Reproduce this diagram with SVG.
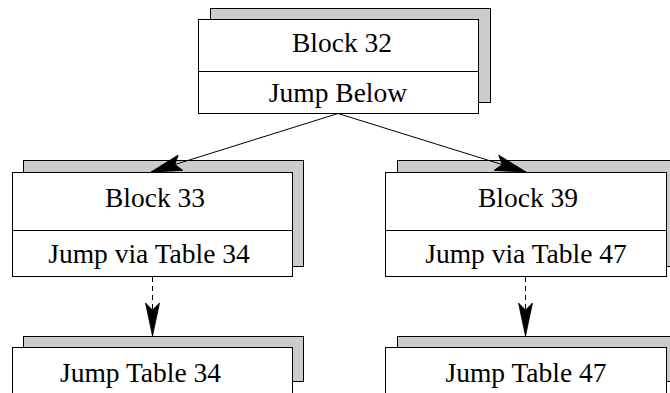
<svg xmlns="http://www.w3.org/2000/svg" width="670" height="393" viewBox="0 0 670 393">
  <style>
    .shadow { fill: #cccccc; stroke: #000; stroke-width: 1; }
    .front { fill: #ffffff; stroke: #000; stroke-width: 1; }
    .div { stroke: #000; stroke-width: 1; }
    .lbl { font-family: "Liberation Serif", "Times New Roman", serif; font-size: 27.5px; fill: #000; text-anchor: middle; }
    .edge { fill: none; stroke: #000; stroke-width: 1; }
    .dashed { stroke-dasharray: 5 4; }
  </style>
  <defs>
    <marker id="head" markerUnits="userSpaceOnUse" markerWidth="40" markerHeight="20" viewBox="-32 -10 34 20" refX="0" refY="0" orient="auto" overflow="visible">
      <path d="M0,0 L-31,-8 L-25,0 L-31,8 Z" fill="#000" stroke="#000" stroke-width="0.8"/>
    </marker>
    <marker id="headThin" markerUnits="userSpaceOnUse" markerWidth="40" markerHeight="20" viewBox="-34 -10 36 20" refX="0" refY="0" orient="auto" overflow="visible">
      <path d="M0,0 L-33,-7 L-26,0 L-33,7 Z" fill="#000" stroke="#000" stroke-width="0.8"/>
    </marker>
  </defs>

  <!-- Block 32 -->
  <g id="block32">
    <rect class="shadow" x="210.5" y="8.5" width="280" height="94"/>
    <rect class="front" x="198.5" y="19.5" width="280" height="94"/>
    <line class="div" x1="198.5" y1="71.5" x2="478.5" y2="71.5"/>
    <text class="lbl" x="342" y="52">Block 32</text>
    <text class="lbl" x="338" y="102">Jump Below</text>
  </g>

  <!-- Block 33 -->
  <g id="block33">
    <rect class="shadow" x="23.5" y="160.5" width="280" height="106"/>
    <rect class="front" x="12.5" y="172.5" width="280" height="104"/>
    <line class="div" x1="12.5" y1="230.5" x2="292.5" y2="230.5"/>
    <text class="lbl" x="155" y="207">Block 33</text>
    <text class="lbl" x="149" y="263">Jump via Table 34</text>
  </g>

  <!-- Block 39 -->
  <g id="block39">
    <rect class="shadow" x="397.5" y="160.5" width="280" height="106"/>
    <rect class="front" x="385.5" y="172.5" width="281" height="104"/>
    <line class="div" x1="385.5" y1="230.5" x2="666.5" y2="230.5"/>
    <text class="lbl" x="528" y="207">Block 39</text>
    <text class="lbl" x="526" y="263">Jump via Table 47</text>
  </g>

  <!-- Jump Table 34 -->
  <g id="table34">
    <rect class="shadow" x="23.5" y="336.5" width="280" height="45"/>
    <rect class="front" x="12.5" y="347.5" width="280" height="60"/>
    <text class="lbl" x="140.5" y="382">Jump Table 34</text>
  </g>

  <!-- Jump Table 47 -->
  <g id="table47">
    <rect class="shadow" x="397.5" y="336.5" width="280" height="45"/>
    <rect class="front" x="385.5" y="347.5" width="281" height="60"/>
    <text class="lbl" x="526" y="382">Jump Table 47</text>
  </g>

  <!-- Connectors -->
  <g id="connectors">
    <line class="edge" x1="338" y1="113.5" x2="151" y2="172" marker-end="url(#head)"/>
    <line class="edge" x1="338" y1="113.5" x2="526" y2="172" marker-end="url(#head)"/>
    <line class="edge dashed" x1="152.5" y1="277" x2="152.5" y2="336" marker-end="url(#headThin)"/>
    <line class="edge dashed" x1="525.5" y1="277" x2="525.5" y2="336" marker-end="url(#headThin)"/>
  </g>
</svg>
